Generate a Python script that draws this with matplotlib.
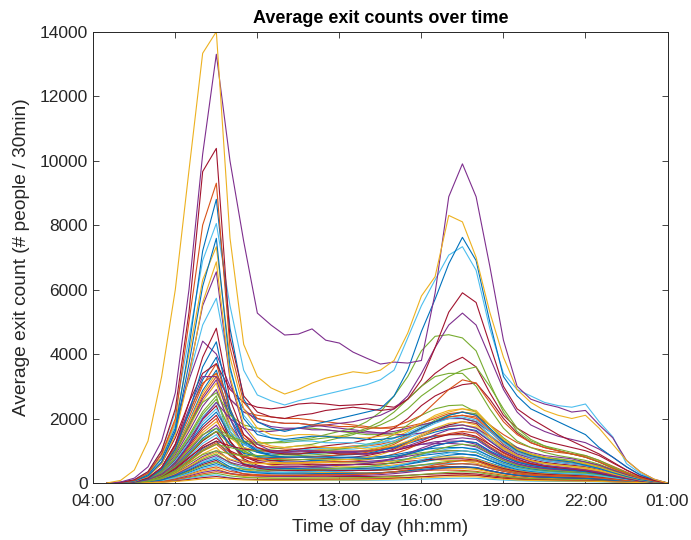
import numpy as np
import matplotlib
matplotlib.use("Agg")
import matplotlib.pyplot as plt

# half-hour slots from 04:30 to 01:00 (next day), in hours since midnight
slot_hours = np.arange(4.5, 25.01, 0.5)
tick_hours = [4, 7, 10, 13, 16, 19, 22, 25]
tick_labels = ["04:00", "07:00", "10:00", "13:00", "16:00", "19:00", "22:00", "01:00"]
y_ticks = [0, 2000, 4000, 6000, 8000, 10000, 12000, 14000]

# --- busiest stations (average exits per 30 min) ---
st_yellow_top = [0, 80, 400, 1300, 3300, 6000,
                 9700, 13330, 14000, 7600, 4300, 3300,
                 2950, 2760, 2900, 3100, 3250, 3350,
                 3450, 3400, 3500, 3800, 4650, 5800,
                 6400, 8300, 8100, 7000, 5300, 3900,
                 2900, 2500, 2250, 2100, 2000, 2100,
                 1700, 1200, 700, 350, 120, 0]
st_purple_top = [0, 30, 150, 500, 1300, 2800,
                 6000, 10200, 13300, 9990, 7500, 5270,
                 4900, 4590, 4620, 4780, 4430, 4340,
                 4060, 3870, 3690, 3750, 3720, 3800,
                 5890, 8880, 9900, 8880, 6730, 4430,
                 3000, 2600, 2450, 2350, 2200, 2250,
                 1800, 1400, 700, 350, 120, 0]
st_red_top = [0, 20, 100, 350, 1000, 2300,
              5300, 9660, 10380, 4500, 2700, 2200,
              2050, 2000, 2100, 2150, 2250, 2300,
              2350, 2300, 2250, 2300, 2600, 3200,
              4200, 5300, 5900, 5600, 4300, 3000,
              2300, 2000, 1750, 1500, 1300, 1100,
              900, 650, 400, 200, 80, 0]
st_orange_top = [0, 15, 80, 300, 900, 2000,
                 5000, 8000, 9300, 4200, 2500, 2000,
                 1900, 1850, 1850, 1800, 1800, 1750,
                 1750, 1700, 1700, 1750, 1900, 2100,
                 2500, 2900, 3200, 3100, 2500, 1900,
                 1500, 1250, 1100, 1000, 900, 800,
                 650, 450, 300, 150, 60, 0]
st_blue_top = [0, 15, 70, 250, 750, 1700,
               4200, 7200, 8800, 4800, 2600, 1900,
               1700, 1600, 1700, 1800, 1900, 2000,
               2100, 2200, 2300, 2700, 3500, 4700,
               5700, 6800, 7620, 6900, 5000, 3300,
               2700, 2300, 2100, 1900, 1700, 1500,
               1100, 800, 500, 250, 100, 0]
st_cyan_top = [0, 20, 100, 350, 1000, 2200,
               4500, 6900, 8050, 5500, 3500, 2730,
               2550, 2420, 2550, 2650, 2750, 2850,
               2950, 3050, 3200, 3500, 4500, 5500,
               6300, 7070, 7330, 6600, 4800, 3400,
               2900, 2700, 2500, 2400, 2350, 2450,
               1900, 1430, 600, 300, 100, 0]
st_blue_2 = [0, 10, 60, 220, 650, 1600,
             3700, 6100, 7590, 3600, 2000, 1500,
             1400, 1350, 1400, 1450, 1450, 1400,
             1400, 1350, 1350, 1400, 1500, 1700,
             1900, 2100, 2200, 2100, 1700, 1300,
             1000, 850, 750, 700, 650, 550,
             450, 320, 200, 100, 40, 0]
st_yellow_2 = [0, 15, 80, 280, 800, 1900,
               4000, 6300, 7330, 3900, 2300, 1700,
               1500, 1450, 1500, 1500, 1450, 1450,
               1400, 1400, 1450, 1500, 1650, 1850,
               2100, 2250, 2300, 2200, 1800, 1350,
               1050, 900, 800, 700, 650, 600,
               480, 350, 220, 110, 40, 0]
st_yellow_3 = [0, 10, 50, 200, 600, 1500,
               3300, 5600, 6860, 3300, 1800, 1300,
               1150, 1100, 1150, 1150, 1100, 1100,
               1100, 1050, 1100, 1150, 1300, 1500,
               1700, 1850, 1900, 1800, 1450, 1100,
               850, 700, 600, 550, 500, 450,
               380, 280, 180, 90, 30, 0]
st_purple_2 = [0, 10, 50, 200, 650, 1600,
               3400, 5500, 6550, 3200, 1700, 1200,
               1000, 950, 1000, 1000, 950, 950,
               950, 900, 950, 1000, 1150, 1300,
               1500, 1650, 1700, 1600, 1300, 1000,
               800, 650, 550, 500, 450, 400,
               330, 240, 150, 80, 30, 0]
st_cyan_2 = [0, 15, 80, 280, 800, 1800,
             3300, 4900, 5730, 3500, 2100, 1600,
             1400, 1300, 1300, 1300, 1250, 1250,
             1250, 1200, 1250, 1300, 1450, 1650,
             1850, 2000, 2050, 1950, 1600, 1250,
             950, 800, 700, 650, 600, 550,
             450, 330, 210, 100, 40, 0]
st_red_2 = [0, 10, 40, 150, 480, 1200,
            2500, 3900, 4800, 2600, 1500, 1100,
            950, 900, 900, 950, 950, 900,
            900, 900, 950, 1000, 1100, 1250,
            1400, 1500, 1550, 1450, 1200, 950,
            750, 600, 520, 470, 430, 380,
            300, 220, 140, 70, 25, 0]
st_blue_3 = [0, 8, 35, 130, 420, 1050,
             2200, 3600, 4380, 2300, 1300, 1000,
             850, 800, 800, 800, 800, 780,
             780, 760, 780, 820, 900, 1000,
             1150, 1250, 1300, 1250, 1000, 800,
             650, 550, 480, 440, 400, 350,
             280, 200, 130, 60, 20, 0]
st_purple_3 = [0, 15, 80, 300, 900, 1900,
               3200, 4400, 4000, 3000, 2300, 1900,
               1750, 1700, 1700, 1650, 1650, 1600,
               1600, 1550, 1550, 1600, 1700, 1800,
               1900, 2000, 2000, 1900, 1600, 1300,
               1100, 950, 850, 800, 750, 650,
               550, 400, 260, 130, 50, 0]
st_purple_4 = [0, 5, 25, 100, 280, 600,
               1200, 2000, 2500, 2000, 1700, 1600,
               1600, 1650, 1700, 1750, 1800, 1850,
               1900, 2000, 2100, 2300, 2700, 3400,
               4200, 4900, 5270, 4900, 3900, 2900,
               2200, 1800, 1600, 1450, 1350, 1250,
               1050, 800, 500, 250, 90, 0]
st_green_1 = [0, 5, 20, 80, 220, 500,
              900, 1350, 1600, 1400, 1250, 1200,
              1250, 1300, 1350, 1400, 1500, 1600,
              1700, 1900, 2200, 2700, 3300, 4100,
              4550, 4600, 4500, 4100, 3100, 2200,
              1600, 1300, 1150, 1050, 950, 850,
              700, 500, 320, 160, 60, 0]
st_green_2 = [0, 5, 20, 60, 170, 380,
              700, 1000, 1200, 1100, 1000, 1000,
              1050, 1100, 1150, 1200, 1300, 1400,
              1500, 1650, 1800, 2000, 2300, 2700,
              3000, 3300, 3500, 3600, 3000, 2300,
              1700, 1350, 1150, 1000, 900, 800,
              650, 480, 300, 150, 50, 0]
st_green_3 = [0, 5, 25, 90, 280, 600,
              1050, 1500, 1700, 1450, 1300, 1250,
              1250, 1250, 1300, 1350, 1400, 1450,
              1550, 1700, 1900, 2200, 2600, 3000,
              3300, 3400, 3400, 3000, 2300, 1700,
              1300, 1100, 950, 850, 780, 700,
              580, 420, 270, 130, 50, 0]
st_red_3 = [0, 5, 20, 70, 200, 450,
            800, 1100, 1300, 1150, 1050, 1000,
            1000, 1000, 1050, 1100, 1150, 1200,
            1250, 1350, 1500, 1700, 2000, 2400,
            2700, 2900, 3050, 3100, 2600, 2000,
            1550, 1250, 1100, 1000, 900, 800,
            650, 470, 300, 150, 50, 0]
st_green_4 = [0, 5, 15, 50, 140, 320,
              620, 880, 1000, 900, 850, 850,
              850, 900, 900, 950, 1000, 1050,
              1100, 1200, 1300, 1500, 1800, 2100,
              2300, 2400, 2420, 2200, 1800, 1400,
              1100, 900, 800, 720, 650, 580,
              480, 350, 220, 110, 40, 0]
st_red_4 = [0, 10, 50, 200, 600, 1400,
            2500, 3400, 3700, 2900, 2500, 2350,
            2300, 2350, 2450, 2480, 2450, 2400,
            2420, 2450, 2400, 2350, 2600, 3000,
            3400, 3700, 3900, 3600, 2800, 2100,
            1700, 1450, 1300, 1200, 1100, 1000,
            850, 620, 400, 200, 70, 0]
st_orange_2 = [0, 10, 40, 150, 480, 1200,
               2200, 3100, 3400, 2600, 2200, 2100,
               2050, 2000, 2000, 1950, 1900, 1850,
               1800, 1750, 1700, 1700, 1750, 1850,
               2000, 2150, 2200, 2100, 1800, 1500,
               1250, 1100, 1000, 950, 900, 850,
               700, 520, 340, 170, 60, 0]
st_green_5 = [0, 5, 30, 120, 380, 950,
              1800, 2500, 2800, 2100, 1800, 1700,
              1650, 1650, 1700, 1700, 1650, 1600,
              1550, 1500, 1500, 1550, 1650, 1800,
              1900, 2000, 2000, 1900, 1600, 1300,
              1050, 900, 800, 750, 700, 650,
              550, 400, 260, 130, 50, 0]
st_purple_5 = [0, 10, 40, 150, 480, 1200,
               2300, 3300, 3300, 2600, 2200, 2000,
               1900, 1850, 1850, 1800, 1750, 1700,
               1650, 1600, 1550, 1500, 1500, 1550,
               1650, 1750, 1800, 1700, 1450, 1150,
               900, 780, 700, 650, 600, 550,
               450, 330, 210, 100, 40, 0]

# --- remaining stations (the dense band near the bottom) ---
other_stations = [
    [0, 10, 40, 140, 420, 1050, 1900, 2870, 3500, 2000, 1100, 800,
     700, 650, 650, 700, 700, 650, 650, 650, 650, 700, 750, 850,
     900, 950, 900, 850, 700, 550, 450, 380, 330, 300, 280, 250,
     200, 150, 90, 50, 20, 0],
    [0, 10, 40, 130, 400, 1000, 1800, 2700, 3300, 2200, 1500, 1200,
     1100, 1050, 1050, 1100, 1100, 1100, 1150, 1150, 1200, 1300, 1500, 1700,
     1900, 2050, 2100, 2000, 1600, 1200, 950, 800, 700, 650, 600, 550,
     450, 330, 210, 100, 40, 0],
    [0, 8, 30, 120, 370, 930, 1700, 2540, 3100, 1600, 900, 650,
     550, 500, 500, 550, 550, 500, 500, 500, 520, 560, 620, 680,
     720, 700, 680, 620, 500, 400, 320, 270, 240, 220, 200, 180,
     150, 110, 70, 35, 15, 0],
    [0, 8, 30, 115, 350, 870, 1600, 2380, 2900, 1800, 1200, 1000,
     950, 900, 900, 950, 950, 900, 900, 900, 950, 1000, 1100, 1200,
     1280, 1300, 1300, 1200, 950, 750, 600, 500, 450, 420, 400, 370,
     300, 220, 140, 70, 25, 0],
    [0, 6, 25, 110, 320, 810, 1480, 2210, 2700, 1300, 700, 500,
     420, 400, 400, 420, 420, 400, 400, 390, 400, 420, 450, 480,
     500, 510, 500, 450, 370, 300, 240, 200, 180, 160, 150, 130,
     110, 80, 50, 25, 10, 0],
    [0, 6, 25, 100, 300, 750, 1380, 2050, 2500, 1700, 1200, 1000,
     950, 950, 1000, 1000, 1050, 1050, 1050, 1100, 1150, 1250, 1400, 1550,
     1700, 1800, 1800, 1700, 1350, 1050, 850, 700, 620, 580, 540, 500,
     420, 310, 200, 100, 40, 0],
    [0, 6, 24, 96, 290, 720, 1320, 1970, 2400, 1300, 750, 550,
     480, 450, 450, 470, 470, 450, 450, 440, 450, 480, 520, 560,
     590, 600, 600, 560, 460, 370, 300, 250, 220, 200, 180, 160,
     130, 100, 60, 30, 12, 0],
    [0, 5, 22, 88, 260, 660, 1210, 1800, 2200, 1500, 1100, 950,
     900, 880, 900, 920, 940, 950, 950, 980, 1020, 1100, 1220, 1350,
     1450, 1500, 1500, 1400, 1100, 850, 680, 580, 520, 480, 450, 410,
     340, 250, 160, 80, 30, 0],
    [0, 5, 20, 80, 240, 600, 1100, 1640, 2000, 1000, 550, 400,
     340, 320, 320, 340, 340, 320, 320, 310, 320, 340, 360, 380,
     400, 400, 390, 360, 300, 240, 190, 160, 140, 130, 120, 110,
     90, 65, 40, 20, 8, 0],
    [0, 5, 19, 76, 230, 570, 1050, 1560, 1900, 1400, 1100, 1000,
     980, 980, 1000, 1020, 1050, 1080, 1100, 1150, 1250, 1400, 1600, 1850,
     2050, 2200, 2300, 2250, 1800, 1350, 1050, 880, 780, 720, 670, 620,
     520, 380, 250, 120, 45, 0],
    [0, 4, 18, 72, 215, 540, 990, 1480, 1800, 1200, 850, 700,
     650, 640, 650, 660, 670, 660, 660, 670, 700, 750, 830, 900,
     960, 1000, 1000, 950, 770, 600, 480, 400, 360, 330, 310, 290,
     240, 180, 110, 55, 20, 0],
    [0, 4, 16, 64, 190, 480, 880, 1310, 1600, 1200, 950, 850,
     830, 830, 850, 870, 900, 930, 960, 1000, 1100, 1250, 1450, 1700,
     1950, 2100, 2200, 2150, 1700, 1300, 1000, 850, 750, 690, 640, 590,
     490, 360, 230, 110, 40, 0],
    [0, 4, 15, 60, 180, 450, 825, 1230, 1500, 900, 600, 480,
     430, 410, 410, 420, 420, 410, 410, 410, 430, 460, 500, 550,
     580, 600, 600, 570, 460, 370, 300, 250, 220, 200, 190, 170,
     140, 100, 65, 30, 12, 0],
    [0, 3, 14, 56, 170, 420, 770, 1150, 1400, 1000, 800, 720,
     700, 700, 720, 740, 760, 780, 800, 850, 930, 1050, 1230, 1450,
     1650, 1800, 1900, 1850, 1450, 1100, 850, 720, 640, 590, 550, 500,
     420, 310, 200, 95, 35, 0],
    [0, 3, 13, 52, 155, 390, 715, 1070, 1300, 850, 600, 500,
     460, 450, 450, 460, 460, 450, 450, 460, 480, 520, 580, 650,
     720, 780, 800, 760, 620, 490, 390, 330, 290, 270, 250, 230,
     190, 140, 90, 45, 15, 0],
    [0, 3, 12, 48, 145, 360, 660, 985, 1200, 850, 680, 620,
     600, 600, 610, 620, 640, 660, 680, 720, 790, 900, 1050, 1250,
     1400, 1530, 1600, 1550, 1200, 920, 720, 610, 540, 500, 460, 420,
     350, 260, 170, 80, 30, 0],
    [0, 3, 11, 44, 130, 330, 605, 900, 1100, 650, 420, 350,
     320, 310, 310, 320, 320, 310, 310, 310, 320, 340, 370, 400,
     430, 450, 450, 420, 340, 270, 220, 180, 160, 150, 140, 130,
     105, 80, 50, 25, 10, 0],
    [0, 2, 10, 40, 120, 300, 550, 820, 1000, 720, 580, 520,
     500, 500, 510, 520, 540, 550, 570, 600, 660, 750, 880, 1030,
     1160, 1250, 1300, 1250, 980, 750, 590, 500, 450, 410, 380, 350,
     290, 215, 140, 65, 25, 0],
    [0, 2, 9, 36, 110, 270, 495, 740, 900, 620, 470, 410,
     390, 380, 380, 390, 390, 390, 390, 400, 420, 450, 500, 560,
     620, 670, 700, 680, 550, 430, 340, 290, 260, 240, 220, 200,
     170, 125, 80, 40, 15, 0],
    [0, 2, 8, 32, 95, 240, 440, 655, 800, 580, 460, 420,
     410, 410, 420, 430, 440, 450, 470, 500, 550, 630, 740, 870,
     980, 1060, 1100, 1060, 830, 640, 500, 430, 380, 350, 320, 300,
     250, 185, 120, 55, 20, 0],
    [0, 2, 7, 28, 85, 210, 385, 575, 700, 420, 280, 230,
     210, 200, 200, 210, 210, 200, 200, 200, 210, 220, 240, 260,
     280, 290, 300, 280, 230, 180, 145, 120, 105, 95, 90, 80,
     65, 50, 32, 16, 6, 0],
    [0, 2, 6, 24, 72, 180, 330, 490, 600, 450, 370, 340,
     330, 330, 340, 350, 360, 370, 380, 400, 440, 500, 590, 690,
     790, 860, 900, 870, 690, 530, 420, 360, 320, 290, 270, 250,
     210, 155, 100, 48, 18, 0],
    [0, 1, 5, 20, 60, 150, 275, 410, 500, 360, 290, 260,
     250, 250, 250, 260, 260, 260, 270, 280, 300, 340, 390, 450,
     510, 570, 600, 580, 460, 360, 280, 240, 210, 195, 180, 165,
     140, 105, 70, 33, 12, 0],
    [0, 1, 5, 18, 54, 135, 250, 370, 450, 290, 200, 170,
     155, 150, 150, 155, 155, 150, 150, 150, 155, 165, 180, 200,
     220, 240, 250, 235, 190, 150, 120, 100, 90, 80, 75, 68,
     55, 42, 27, 13, 5, 0],
    [0, 1, 4, 16, 48, 120, 220, 330, 400, 300, 240, 215,
     205, 205, 210, 215, 220, 225, 230, 240, 260, 290, 330, 380,
     430, 475, 500, 480, 380, 300, 235, 200, 180, 165, 150, 140,
     115, 85, 55, 27, 10, 0],
    [0, 1, 3, 12, 36, 90, 165, 245, 300, 220, 175, 155,
     150, 148, 150, 152, 155, 158, 160, 168, 180, 200, 230, 265,
     300, 330, 350, 335, 265, 205, 160, 138, 123, 113, 105, 97,
     80, 60, 38, 19, 7, 0],
    [0, 1, 3, 10, 30, 75, 140, 205, 250, 160, 110, 95,
     88, 85, 85, 88, 88, 86, 86, 86, 90, 96, 105, 118,
     130, 142, 150, 142, 115, 90, 72, 60, 54, 48, 45, 41,
     34, 25, 16, 8, 3, 0],
    [0, 1, 2, 8, 24, 60, 110, 165, 200, 150, 120, 108,
     104, 104, 106, 108, 110, 112, 115, 120, 130, 145, 165, 190,
     215, 237, 250, 240, 190, 147, 115, 98, 88, 81, 75, 69,
     57, 42, 27, 13, 5, 0],
    [0, 10, 40, 155, 470, 1170, 2150, 3200, 3900, 2200, 1250, 950,
     850, 800, 800, 820, 820, 800, 800, 800, 820, 870, 950, 1030,
     1080, 1100, 1100, 1030, 830, 650, 520, 440, 390, 360, 340, 310,
     250, 185, 120, 60, 22, 0],
    [0, 10, 40, 150, 445, 1110, 2030, 3030, 3700, 2300, 1400, 1100,
     1000, 980, 990, 1000, 1000, 990, 990, 1000, 1050, 1130, 1250, 1380,
     1470, 1500, 1500, 1420, 1130, 870, 690, 590, 520, 480, 450, 410,
     340, 250, 160, 80, 30, 0],
    [0, 9, 35, 135, 410, 1020, 1870, 2790, 3400, 1800, 1000, 750,
     650, 620, 620, 640, 640, 620, 620, 620, 640, 680, 730, 780,
     800, 810, 800, 740, 600, 470, 380, 320, 285, 260, 245, 225,
     185, 135, 88, 44, 16, 0],
    [0, 8, 32, 130, 385, 960, 1760, 2620, 3200, 2000, 1300, 1050,
     980, 950, 960, 980, 990, 980, 980, 990, 1020, 1080, 1150, 1200,
     1220, 1230, 1200, 1120, 900, 700, 560, 480, 430, 400, 370, 340,
     280, 205, 135, 65, 25, 0],
    [0, 7, 26, 105, 310, 780, 1430, 2130, 2600, 1600, 1000, 800,
     740, 720, 720, 740, 740, 730, 730, 740, 770, 820, 880, 940,
     980, 1000, 1000, 950, 760, 590, 470, 400, 360, 330, 310, 290,
     240, 175, 115, 55, 20, 0],
    [0, 6, 23, 92, 275, 690, 1270, 1890, 2300, 1600, 1200, 1050,
     1000, 1000, 1020, 1050, 1080, 1100, 1120, 1170, 1250, 1380, 1550, 1750,
     1900, 2000, 2000, 1900, 1500, 1150, 900, 760, 680, 630, 590, 540,
     450, 330, 215, 105, 40, 0],
    [0, 5, 21, 84, 250, 630, 1160, 1720, 2100, 1300, 820, 650,
     580, 560, 560, 580, 580, 570, 570, 570, 590, 620, 670, 710,
     740, 750, 750, 710, 570, 450, 360, 305, 270, 250, 235, 215,
     178, 130, 85, 42, 16, 0],
    [0, 4, 17, 68, 205, 510, 935, 1390, 1700, 1200, 920, 820,
     790, 790, 800, 820, 840, 860, 880, 920, 1000, 1120, 1280, 1450,
     1580, 1680, 1700, 1630, 1300, 1000, 790, 670, 600, 550, 510, 470,
     390, 290, 185, 90, 35, 0],
    [0, 3, 13, 50, 150, 375, 690, 1025, 1250, 950, 800, 760,
     760, 770, 790, 810, 840, 870, 900, 950, 1050, 1200, 1420, 1700,
     1900, 2050, 2100, 2050, 1650, 1250, 960, 810, 720, 660, 610, 560,
     470, 345, 225, 110, 40, 0],
    [0, 2, 10, 38, 115, 285, 520, 780, 950, 740, 630, 600,
     600, 610, 630, 650, 680, 710, 740, 790, 880, 1020, 1220, 1450,
     1630, 1750, 1800, 1740, 1380, 1050, 810, 690, 610, 560, 520, 480,
     400, 295, 190, 90, 35, 0],
    [0, 2, 9, 34, 100, 255, 470, 700, 850, 640, 530, 500,
     490, 490, 500, 510, 530, 550, 570, 610, 670, 770, 910, 1080,
     1230, 1350, 1400, 1350, 1070, 820, 640, 540, 480, 440, 410, 380,
     315, 230, 150, 72, 27, 0],
    [0, 2, 7, 26, 78, 195, 360, 535, 650, 500, 420, 400,
     400, 400, 410, 420, 440, 460, 480, 510, 560, 640, 750, 890,
     1020, 1130, 1200, 1160, 910, 700, 550, 465, 410, 375, 350, 325,
     270, 200, 130, 62, 23, 0],
    [0, 1, 6, 22, 66, 165, 300, 450, 550, 420, 350, 330,
     330, 330, 340, 350, 360, 375, 390, 415, 455, 520, 610, 720,
     830, 930, 1000, 970, 760, 580, 450, 385, 340, 310, 290, 270,
     225, 165, 107, 52, 19, 0],
    [0, 4, 16, 64, 190, 480, 880, 1310, 1600, 950, 580, 460,
     410, 390, 390, 400, 400, 390, 390, 390, 400, 420, 450, 480,
     490, 500, 500, 470, 380, 300, 240, 200, 180, 165, 155, 140,
     115, 85, 55, 27, 10, 0],
    [0, 2, 8, 30, 90, 225, 410, 615, 750, 500, 360, 310,
     290, 285, 285, 290, 295, 295, 300, 305, 320, 345, 380, 420,
     455, 485, 500, 480, 385, 300, 240, 205, 180, 165, 155, 145,
     120, 88, 57, 28, 10, 0],
    [0, 1, 4, 14, 42, 105, 190, 285, 350, 280, 240, 228,
     228, 230, 235, 240, 248, 256, 265, 280, 305, 350, 410, 480,
     560, 640, 700, 680, 530, 405, 315, 270, 240, 220, 205, 190,
     158, 117, 76, 37, 14, 0],
    [0, 0, 2, 6, 18, 45, 80, 125, 150, 115, 95, 88,
     86, 86, 88, 90, 92, 94, 96, 100, 108, 120, 138, 158,
     176, 192, 200, 192, 152, 117, 92, 78, 70, 64, 60, 55,
     46, 34, 22, 11, 4, 0],
]

# MATLAB default line colours
ML_BLUE, ML_ORANGE, ML_YELLOW, ML_PURPLE = "#0072BD", "#D95319", "#EDB120", "#7E2F8E"
ML_GREEN, ML_CYAN, ML_RED = "#77AC30", "#4DBEEE", "#A2142F"
ML_ORDER = [ML_BLUE, ML_ORANGE, ML_YELLOW, ML_PURPLE, ML_GREEN, ML_CYAN, ML_RED]

busy_stations = [
    (st_red_4, ML_RED), (st_orange_2, ML_ORANGE), (st_green_5, ML_GREEN),
    (st_purple_5, ML_PURPLE), (st_green_4, ML_GREEN), (st_red_3, ML_RED),
    (st_green_3, ML_GREEN), (st_green_2, ML_GREEN), (st_green_1, ML_GREEN),
    (st_purple_4, ML_PURPLE), (st_purple_3, ML_PURPLE), (st_blue_3, ML_BLUE),
    (st_red_2, ML_RED), (st_cyan_2, ML_CYAN), (st_purple_2, ML_PURPLE),
    (st_yellow_3, ML_YELLOW), (st_yellow_2, ML_YELLOW), (st_blue_2, ML_BLUE),
    (st_cyan_top, ML_CYAN), (st_blue_top, ML_BLUE), (st_orange_top, ML_ORANGE),
    (st_red_top, ML_RED), (st_purple_top, ML_PURPLE), (st_yellow_top, ML_YELLOW),
]

plt.rcParams["font.family"] = ["Liberation Sans", "DejaVu Sans"]

fig = plt.figure(figsize=(6.91, 5.40), dpi=100)
ax = fig.add_axes([0.135, 0.1056, 0.831, 0.8357])

for k, series in enumerate(other_stations):
    ax.plot(slot_hours, series, color=ML_ORDER[k % len(ML_ORDER)], lw=0.8)
for series, col in busy_stations:
    ax.plot(slot_hours, series, color=col, lw=0.8)

ax.set_xlim(4, 25)
ax.set_ylim(0, 14000)
ax.set_xticks(tick_hours)
ax.set_xticklabels(tick_labels)
ax.set_yticks(y_ticks)
ax.set_yticklabels([str(v) for v in y_ticks])

ax.tick_params(direction="in", top=True, right=True, length=4, width=0.6,
               colors="#262626", labelsize=12.5)
ax.tick_params(axis="x", pad=8)
ax.tick_params(axis="y", pad=4)
for sp in ax.spines.values():
    sp.set_color("#262626")
    sp.set_linewidth(0.7)

ax.set_title("Average exit counts over time", fontsize=13, fontweight="bold", pad=6)
ax.set_xlabel("Time of day (hh:mm)", fontsize=13.8, color="#262626", labelpad=7)
ax.set_ylabel("Average exit count (# people / 30min)", fontsize=13.8, color="#262626", labelpad=7)

fig.savefig("out.png", dpi=100)
